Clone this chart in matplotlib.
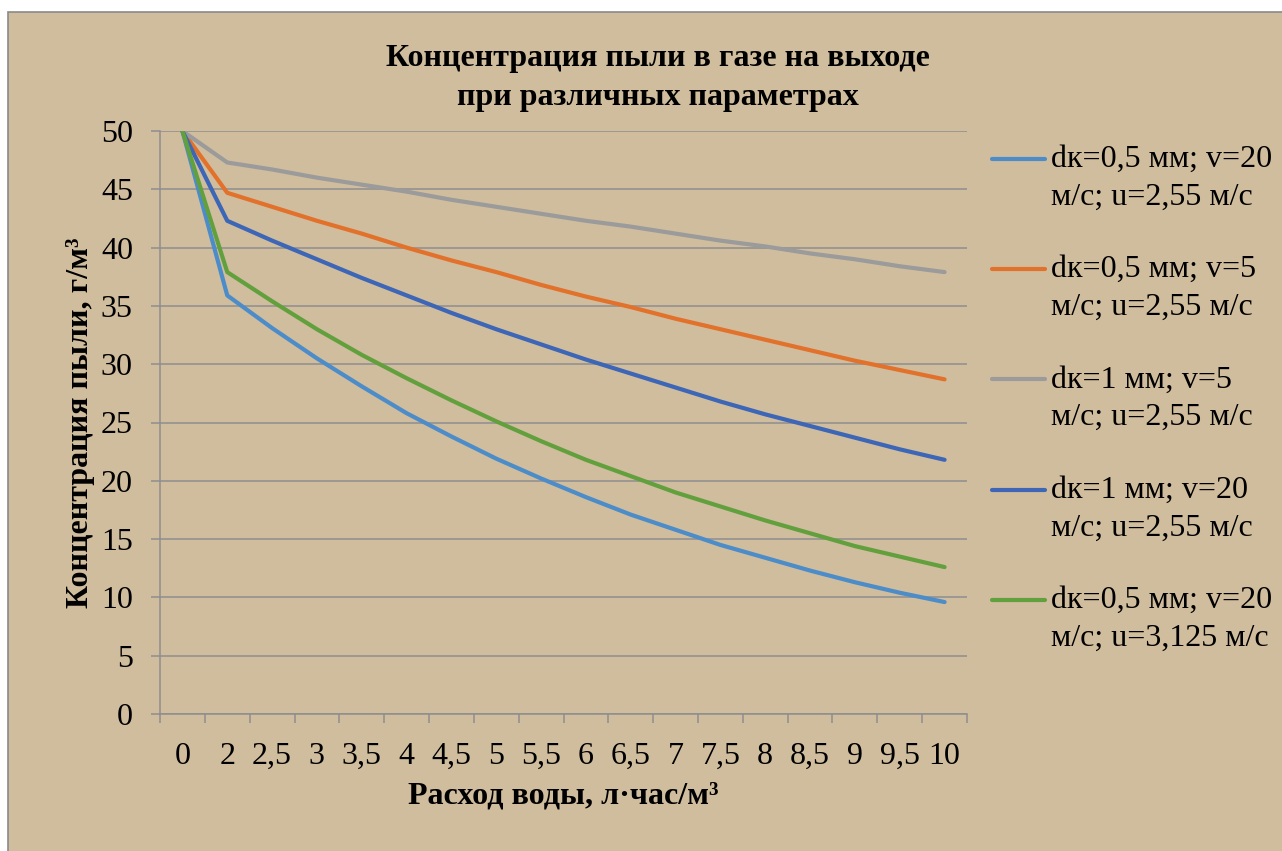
import numpy as np
import matplotlib
matplotlib.use("Agg")
import matplotlib.pyplot as plt
from matplotlib.patches import Rectangle
from matplotlib.legend_handler import HandlerLine2D

plt.rcParams['font.family'] = ['Liberation Serif', 'DejaVu Serif']

# Water flow rate categories (л·час/м³)
water_flow = ["0", "2", "2,5", "3", "3,5", "4", "4,5", "5", "5,5", "6",
              "6,5", "7", "7,5", "8", "8,5", "9", "9,5", "10"]

# Outlet dust concentration, г/м³
dk05_v20_u255 = [50, 35.9, 33.1, 30.5, 28.1, 25.8, 23.8, 21.9, 20.2, 18.6,
                 17.1, 15.8, 14.5, 13.4, 12.3, 11.3, 10.4, 9.6]
dk05_v5_u255 = [50, 44.7, 43.5, 42.3, 41.2, 40.0, 38.9, 37.9, 36.8, 35.8,
                34.9, 33.9, 33.0, 32.1, 31.2, 30.3, 29.5, 28.7]
dk1_v5_u255 = [50, 47.3, 46.7, 46.0, 45.4, 44.8, 44.1, 43.5, 42.9, 42.3,
               41.8, 41.2, 40.6, 40.1, 39.5, 39.0, 38.4, 37.9]
dk1_v20_u255 = [50, 42.3, 40.6, 39.0, 37.4, 35.9, 34.4, 33.0, 31.7, 30.4,
                29.2, 28.0, 26.8, 25.7, 24.7, 23.7, 22.7, 21.8]
dk05_v20_u3125 = [50, 37.9, 35.4, 33.0, 30.8, 28.8, 26.9, 25.1, 23.4, 21.8,
                  20.4, 19.0, 17.8, 16.6, 15.5, 14.4, 13.5, 12.6]

series_labels = [
    "dк=0,5 мм; v=20\nм/с; u=2,55 м/с",
    "dк=0,5 мм; v=5\nм/с; u=2,55 м/с",
    "dк=1 мм; v=5\nм/с; u=2,55 м/с",
    "dк=1 мм; v=20\nм/с; u=2,55 м/с",
    "dк=0,5 мм; v=20\nм/с; u=3,125 м/с",
]
series_values = [dk05_v20_u255, dk05_v5_u255, dk1_v5_u255, dk1_v20_u255, dk05_v20_u3125]
series_colors = ["#4C8CC9", "#E2712B", "#9B9B9B", "#3D66B6", "#62A03E"]

BG = "#D0BD9D"
GRID = "#8E8E8E"
FS = 23
LINE_SPACING = 1.4


class FirstLineHandler(HandlerLine2D):
    """Legend line placed level with the first line of a two-line label."""

    def __init__(self, shift, **kw):
        super().__init__(**kw)
        self.shift = shift

    def create_artists(self, legend, orig_handle, xdescent, ydescent,
                       width, height, fontsize, trans):
        arts = super().create_artists(legend, orig_handle, xdescent, ydescent,
                                      width, height, fontsize, trans)
        for a in arts:
            a.set_ydata(np.asarray(a.get_ydata(), dtype=float) + self.shift)
        return arts


fig = plt.figure(figsize=(12.82, 8.51), dpi=100, facecolor="white")

# chart area panel
panel = Rectangle((8 / 1282, -0.02), 1.05, 1 - 12 / 851 + 0.02,
                  transform=fig.transFigure, facecolor=BG, edgecolor="#8A8A8A",
                  linewidth=1.2, zorder=0)
fig.add_artist(panel)

ax = fig.add_axes([160 / 1282, 1 - 714 / 851, (967 - 160) / 1282, (714 - 131) / 851])
ax.set_facecolor("none")

x = np.arange(len(water_flow))
lines = []
for vals, lab, col in zip(series_values, series_labels, series_colors):
    ln, = ax.plot(x, vals, color=col, linewidth=3.0, label=lab,
                  solid_capstyle="round", solid_joinstyle="round", zorder=3)
    lines.append(ln)

ax.set_xlim(-0.5, len(water_flow) - 0.5)
ax.set_ylim(0, 50)
ax.set_yticks(np.arange(0, 51, 5))
ax.set_xticks(x)
ax.set_xticklabels(water_flow)
ax.set_xticks(np.arange(-0.5, len(water_flow), 1.0), minor=True)

ax.yaxis.grid(True, color=GRID, linewidth=1.1, zorder=1)
ax.set_axisbelow(True)
for side in ("top", "right"):
    ax.spines[side].set_visible(False)
for side in ("left", "bottom"):
    ax.spines[side].set_color(GRID)
    ax.spines[side].set_linewidth(1.1)

ax.tick_params(axis="y", which="major", length=6.5, width=1.1, color=GRID,
               labelsize=FS, pad=13)
ax.tick_params(axis="x", which="major", length=0, labelsize=FS, pad=20)
ax.tick_params(axis="x", which="minor", length=6.5, width=1.1, color=GRID)

ax.set_xlabel("Расход воды, л·час/м³", fontsize=FS, fontweight="bold", labelpad=8)
ax.set_ylabel("Концентрация пыли, г/м³", fontsize=FS, fontweight="bold", labelpad=4)

fig.text(658 / 1282, 1 - 78 / 851, "Концентрация пыли в газе на выходе\nпри различных параметрах",
         ha="center", va="center", fontsize=FS, fontweight="bold", linespacing=1.42)

shift_pt = 0.5 * LINE_SPACING * FS * 0.86
leg = ax.legend(handles=lines, loc="upper left",
                bbox_to_anchor=(992 / 1282, 1 - 145 / 851),
                bbox_transform=fig.transFigure, frameon=False, fontsize=FS,
                handlelength=1.65, handletextpad=0.2, labelspacing=1.36,
                borderpad=0, borderaxespad=0,
                handler_map={ln: FirstLineHandler(shift_pt) for ln in lines})
for t in leg.get_texts():
    t.set_linespacing(LINE_SPACING)
for h in leg.get_lines():
    h.set_linewidth(3.0)

fig.savefig("out.png", dpi=100, facecolor="white")
